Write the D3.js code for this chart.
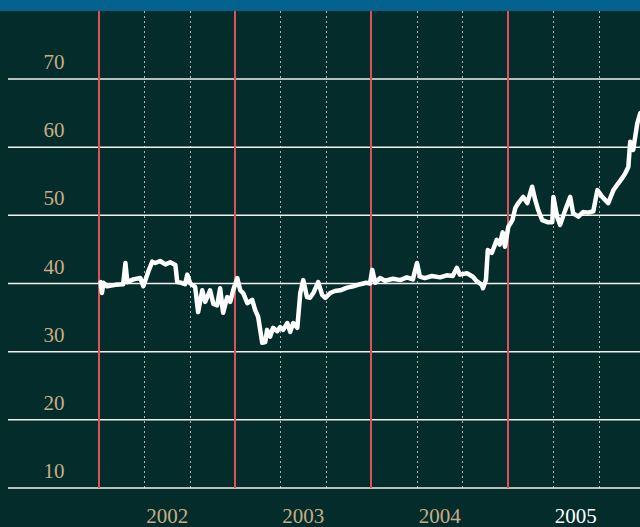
<!DOCTYPE html>
<html>
<head>
<meta charset="utf-8">
<script src="https://cdn.jsdelivr.net/npm/d3@7"></script>
<style>
  html, body { margin: 0; padding: 0; background: #032c2b; }
  svg { display: block; }
  text { font-family: "Liberation Serif", "DejaVu Serif", serif; font-variant-numeric: oldstyle-nums; }
</style>
</head>
<body>
<div id="chart"></div>
<script>
    const dates = [
      "2002-01-04", "2002-01-08", "2002-01-12", "2002-01-22", "2002-02-13", "2002-03-06", "2002-03-12", "2002-03-17",
      "2002-04-02", "2002-04-21", "2002-04-29", "2002-05-12", "2002-05-23", "2002-05-31", "2002-06-13", "2002-06-27",
      "2002-07-10", "2002-07-24", "2002-07-29", "2002-08-09", "2002-08-19", "2002-08-25", "2002-09-02", "2002-09-15",
      "2002-09-23", "2002-10-04", "2002-10-12", "2002-10-25", "2002-11-03", "2002-11-13", "2002-11-21", "2002-11-29",
      "2002-12-10", "2002-12-18", "2002-12-26",
      "2003-01-06", "2003-01-14", "2003-01-22", "2003-02-02", "2003-02-15", "2003-02-23", "2003-03-03", "2003-03-14",
      "2003-03-22", "2003-03-27", "2003-04-04", "2003-04-12", "2003-04-23", "2003-05-01", "2003-05-09", "2003-05-20",
      "2003-05-28", "2003-06-05", "2003-06-16", "2003-06-24", "2003-07-02", "2003-07-12", "2003-07-20", "2003-07-29",
      "2003-08-11", "2003-08-22", "2003-08-30", "2003-09-12", "2003-09-25", "2003-10-09", "2003-10-28", "2003-11-13",
      "2003-12-02", "2003-12-18", "2003-12-28",
      "2004-01-03", "2004-01-11", "2004-01-24", "2004-02-06", "2004-02-28", "2004-03-18", "2004-04-05", "2004-04-21",
      "2004-05-02", "2004-05-10", "2004-05-23", "2004-06-11", "2004-07-03", "2004-07-21", "2004-08-06", "2004-08-17",
      "2004-08-25", "2004-09-13", "2004-09-29", "2004-10-10", "2004-10-23", "2004-10-26", "2004-11-03", "2004-11-08",
      "2004-11-19", "2004-12-02", "2004-12-10", "2004-12-18", "2004-12-24",
      "2005-01-02", "2005-01-13", "2005-01-21", "2005-01-29", "2005-02-11", "2005-02-22", "2005-03-07", "2005-03-15",
      "2005-03-23", "2005-04-03", "2005-04-17", "2005-04-30", "2005-05-03", "2005-05-13", "2005-05-21", "2005-06-04",
      "2005-06-17", "2005-06-25", "2005-07-09", "2005-07-22", "2005-08-04", "2005-08-18", "2005-08-29", "2005-09-11",
      "2005-09-27", "2005-10-11", "2005-10-24", "2005-11-04", "2005-11-12", "2005-11-20", "2005-11-25", "2005-12-03",
      "2005-12-14", "2005-12-22"
    ];

    const values = [
      40.2, 38.6, 40.1, 39.6, 39.8, 39.9, 43.0, 40.2,
      40.6, 40.8, 39.6, 41.7, 43.2, 43.0, 43.3, 42.8,
      43.1, 42.7, 40.2, 40.1, 39.9, 41.3, 40.0, 39.5,
      35.8, 39.0, 37.3, 39.0, 37.0, 36.8, 39.3, 35.7,
      38.0, 37.3, 39.0,
      40.8, 39.0, 38.6, 37.1, 37.6, 36.1, 35.1, 31.3,
      31.4, 33.2, 32.2, 33.5, 33.0, 33.6, 33.2, 34.2,
      32.9, 34.2, 33.5, 38.6, 40.5, 38.0, 37.9, 38.6,
      40.2, 38.3, 37.9, 38.6, 38.9, 39.0, 39.4, 39.6,
      39.9, 40.1, 40.0,
      42.0, 40.1, 40.8, 40.4, 40.7, 40.5, 40.9, 40.6,
      43.0, 41.0, 40.8, 41.1, 40.9, 41.2, 41.1, 42.3,
      41.3, 41.5, 41.0, 40.3, 39.8, 39.3, 40.5, 44.9,
      44.5, 46.4, 45.7, 47.5, 45.4,
      48.3, 49.3, 51.1, 51.8, 52.7, 51.8, 54.2, 52.3,
      50.8, 49.3, 49.0, 49.0, 52.7, 49.8, 48.6, 50.8,
      52.7, 50.3, 49.8, 50.5, 50.4, 50.6, 53.7, 52.7,
      51.8, 53.7, 54.7, 55.5, 56.2, 57.1, 60.8, 59.6,
      63.5, 65.0
    ];

    const yTicks = [10, 20, 30, 40, 50, 60, 70];
    const years = [2002, 2003, 2004, 2005];

    const width = 640, height = 527;

    const svg = d3.select("#chart")
      .append("svg")
        .attr("width", width)
        .attr("height", height);

    svg.append("rect")
      .attr("width", width)
      .attr("height", height)
      .attr("fill", "#032c2b");

    svg.append("rect")
      .attr("width", width)
      .attr("height", 11)
      .attr("fill", "#03638e");

    const parse = d3.utcParse("%Y-%m-%d");
    const data = dates.map((d, i) => ({ date: parse(d), value: values[i] }));

    const xScale = d3.scaleUtc()
      .domain([new Date(Date.UTC(2001, 4, 1)), new Date(Date.UTC(2006, 0, 1))])
      .range([8, 644]);

    const yScale = d3.scaleLinear()
      .domain([10, 70])
      .range([488, 79]);

    // dotted lines every 4 months inside each year
    const dotted = [];
    years.forEach(y => { dotted.push(new Date(Date.UTC(y, 4, 1)), new Date(Date.UTC(y, 8, 1))); });

    svg.selectAll(".dotted")
      .data(dotted)
      .enter()
      .append("line")
        .attr("class", "dotted")
        .attr("x1", d => Math.round(xScale(d)) + 0.5)
        .attr("x2", d => Math.round(xScale(d)) + 0.5)
        .attr("y1", 11)
        .attr("y2", 488)
        .attr("stroke", "#a9b5b2")
        .attr("stroke-width", 1)
        .attr("stroke-dasharray", "2,3");

    svg.selectAll(".hgrid")
      .data(yTicks)
      .enter()
      .append("line")
        .attr("class", "hgrid")
        .attr("x1", 8)
        .attr("x2", width)
        .attr("y1", d => yScale(d))
        .attr("y2", d => yScale(d))
        .attr("stroke", "#f2f2ee")
        .attr("stroke-width", 1.5);

    // year boundaries
    svg.selectAll(".year-line")
      .data(years)
      .enter()
      .append("rect")
        .attr("class", "year-line")
        .attr("x", d => Math.round(xScale(new Date(Date.UTC(d, 0, 1)))) - 1)
        .attr("y", 11)
        .attr("width", 2)
        .attr("height", 477)
        .attr("fill", "#e0505a")
        .attr("shape-rendering", "crispEdges");

    svg.selectAll(".ylabel")
      .data(yTicks)
      .enter()
      .append("text")
        .attr("class", "ylabel")
        .attr("x", 54)
        .attr("y", d => yScale(d) - 10)
        .attr("text-anchor", "middle")
        .style("font-size", "21px")
        .attr("fill", "#c9ad86")
        .text(d => d);

    svg.selectAll(".xlabel")
      .data(years)
      .enter()
      .append("text")
        .attr("class", "xlabel")
        .attr("x", d => xScale(new Date(Date.UTC(d, 6, 2))))
        .attr("y", 523)
        .attr("text-anchor", "middle")
        .style("font-size", "21px")
        .attr("fill", d => d === 2005 ? "#ffffff" : "#c9ad86")
        .text(d => d);

    const line = d3.line()
      .x(d => xScale(d.date))
      .y(d => yScale(d.value));

    svg.append("path")
      .datum(data)
      .attr("d", line)
      .attr("fill", "none")
      .attr("stroke", "#ffffff")
      .attr("stroke-width", 4.5)
      .attr("stroke-linejoin", "round")
      .attr("stroke-linecap", "round");
</script>
</body>
</html>
